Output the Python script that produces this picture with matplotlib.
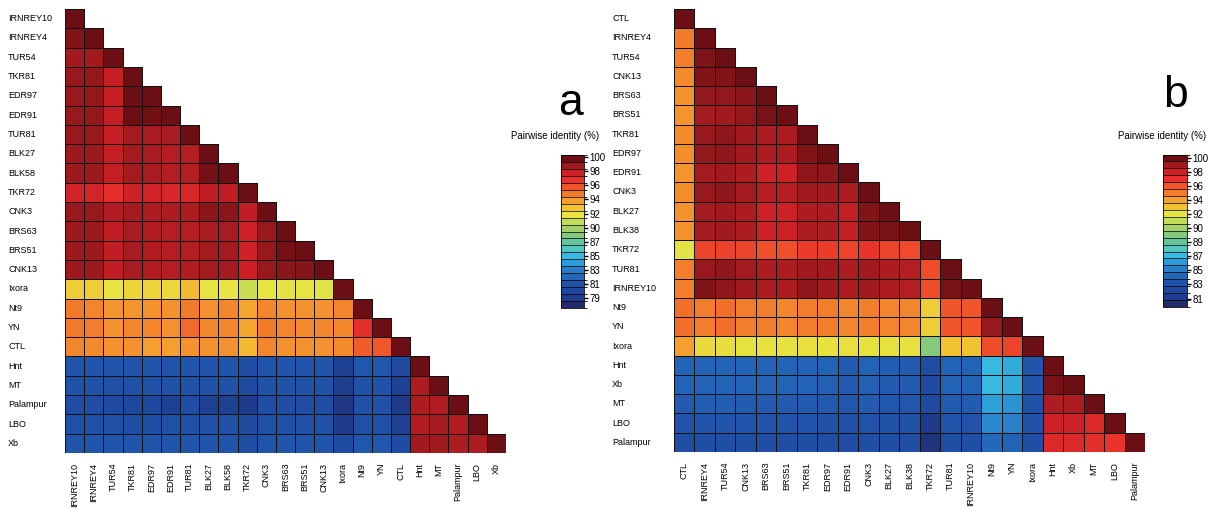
"""
Two lower-triangle pairwise identity heatmaps (panels a and b) with
discrete colour bars, in the style of SDT output.
"""
import numpy as np
import matplotlib
matplotlib.use("Agg")
import matplotlib.pyplot as plt
from matplotlib.colors import LinearSegmentedColormap, ListedColormap, Normalize, BoundaryNorm
from matplotlib.transforms import blended_transform_factory

plt.rcParams["font.family"] = ["Liberation Sans", "DejaVu Sans"]

# ---- data -----------------------------------------------------------------
labels_a = ["IRNREY10", "IRNREY4", "TUR54", "TKR81", "EDR97", "EDR91", "TUR81",
            "BLK27", "BLK58", "TKR72", "CNK3", "BRS63", "BRS51", "CNK13", "Ixora",
            "Nt9", "YN", "CTL", "Hnt", "MT", "Palampur", "LBO", "Xb"]

rows_a = [
    [100],
    [99.3, 100],
    [98.7, 98.7, 100],
    [98.9, 99.0, 97.9, 100],
    [98.9, 99.0, 97.9, 99.8, 100],
    [98.9, 99.0, 97.9, 99.8, 99.7, 100],
    [98.9, 98.9, 97.9, 98.6, 98.5, 98.5, 100],
    [98.8, 98.8, 97.9, 98.6, 98.5, 98.2, 98.2, 100],
    [98.8, 98.8, 97.9, 98.6, 98.5, 98.2, 98.2, 99.6, 100],
    [97.5, 97.4, 96.8, 97.6, 97.5, 97.3, 97.3, 98.0, 98.0, 100],
    [98.9, 98.9, 98.3, 98.6, 98.4, 98.4, 98.4, 99.1, 99.1, 98.0, 100],
    [98.8, 98.8, 98.0, 98.5, 98.3, 98.2, 98.2, 98.5, 98.5, 97.6, 98.9, 100],
    [98.8, 98.8, 98.0, 98.5, 98.3, 98.2, 98.2, 98.6, 98.6, 97.6, 98.9, 99.6, 100],
    [98.8, 98.8, 98.0, 98.5, 98.3, 98.2, 98.3, 98.6, 98.6, 97.7, 98.9, 99.1, 99.2, 100],
    [92.2, 92.2, 91.5, 92.0, 92.0, 91.9, 92.8, 91.5, 91.5, 90.7, 91.5, 91.4, 91.5, 91.3, 100],
    [94.6, 94.3, 93.9, 93.9, 94.0, 94.0, 94.6, 94.0, 94.3, 93.4, 94.3, 94.0, 94.0, 94.0, 94.3, 100],
    [94.6, 94.5, 94.0, 94.3, 94.3, 94.0, 95.0, 94.3, 94.3, 93.4, 94.6, 94.3, 94.1, 94.3, 94.3,
     96.8, 100],
    [94.3, 94.1, 94.0, 94.0, 93.6, 93.6, 94.0, 94.0, 94.0, 92.8, 94.3, 94.0, 94.0, 94.0, 94.1,
     95.4, 95.6, 100],
    [81.2, 81.2, 81.2, 81.1, 81.2, 81.1, 81.2, 81.2, 81.2, 80.6, 81.2, 81.2, 81.2, 81.2, 79.5,
     81.3, 81.3, 80.2, 100],
    [81.0, 81.0, 80.9, 80.9, 81.0, 81.0, 81.0, 81.0, 81.0, 80.4, 81.0, 81.0, 81.0, 81.0, 79.2,
     81.0, 81.0, 79.5, 98.4, 100],
    [80.7, 80.7, 80.3, 80.1, 80.1, 79.5, 80.7, 79.5, 79.5, 79.1, 80.7, 80.7, 80.7, 80.7, 78.8,
     80.9, 80.9, 79.0, 98.4, 98.3, 100],
    [80.9, 80.9, 80.9, 80.8, 80.8, 80.9, 80.9, 80.9, 80.9, 80.4, 80.9, 80.9, 80.9, 80.9, 79.1,
     80.9, 80.9, 79.5, 98.3, 98.6, 98.3, 100],
    [81.2, 81.2, 81.2, 81.2, 81.2, 81.2, 81.2, 81.2, 81.2, 80.8, 81.2, 81.2, 81.2, 81.2, 80.4,
     81.3, 81.3, 80.5, 98.7, 98.7, 98.4, 98.4, 100],
]

labels_b = ["CTL", "IRNREY4", "TUR54", "CNK13", "BRS63", "BRS51", "TKR81", "EDR97",
            "EDR91", "CNK3", "BLK27", "BLK38", "TKR72", "TUR81", "IRNREY10", "Nt9", "YN",
            "Ixora", "Hnt", "Xb", "MT", "LBO", "Palampur"]

rows_b = [
    [100],
    [95.3, 100],
    [95.2, 99.6, 100],
    [94.9, 99.5, 99.5, 100],
    [94.7, 99.2, 99.2, 99.4, 100],
    [94.6, 98.9, 99.0, 99.2, 99.7, 100],
    [94.9, 99.1, 99.3, 99.0, 98.7, 98.7, 100],
    [94.8, 99.2, 99.3, 99.0, 98.7, 98.7, 99.5, 100],
    [94.6, 98.9, 99.0, 98.7, 98.0, 98.0, 99.3, 99.3, 100],
    [94.8, 99.1, 99.3, 98.9, 98.6, 98.6, 99.0, 99.0, 98.7, 100],
    [94.7, 98.9, 99.0, 98.7, 98.0, 98.0, 98.7, 98.7, 98.2, 99.5, 100],
    [94.7, 98.9, 99.0, 98.7, 98.0, 98.0, 98.7, 98.7, 98.2, 99.5, 99.7, 100],
    [92.4, 96.6, 96.7, 96.6, 96.3, 96.3, 96.9, 96.9, 96.6, 97.0, 96.6, 96.5, 100],
    [95.2, 99.1, 99.3, 98.9, 98.7, 98.7, 99.0, 99.0, 98.7, 99.0, 98.7, 98.6, 96.4, 100],
    [95.2, 99.5, 99.3, 99.0, 98.7, 98.7, 99.3, 99.0, 98.7, 99.0, 98.7, 98.6, 96.4, 99.7, 100],
    [95.6, 95.2, 95.6, 95.2, 95.2, 95.0, 95.2, 95.2, 95.0, 95.2, 95.0, 95.0, 93.1, 96.2, 96.2,
     100],
    [95.6, 95.2, 95.6, 95.2, 95.2, 95.0, 95.2, 95.2, 95.0, 95.2, 95.0, 95.0, 93.1, 96.2, 96.2,
     99.1, 100],
    [94.4, 92.8, 92.7, 92.5, 92.5, 92.5, 92.6, 92.5, 92.6, 92.5, 92.5, 92.5, 89.8, 93.4, 93.4,
     96.4, 96.6, 100],
    [84.0, 84.0, 84.0, 84.0, 83.9, 83.9, 83.9, 83.9, 83.5, 83.9, 83.7, 83.5, 82.6, 83.9, 83.9,
     86.9, 86.4, 83.2, 100],
    [84.0, 84.0, 84.0, 83.9, 83.9, 83.9, 83.9, 83.8, 83.5, 83.8, 83.6, 83.5, 82.5, 83.9, 83.9,
     86.9, 86.4, 83.2, 99.7, 100],
    [83.5, 83.7, 83.7, 83.6, 83.5, 83.5, 83.5, 83.4, 83.3, 83.5, 83.3, 83.3, 82.4, 83.6, 83.6,
     86.1, 85.7, 83.0, 98.7, 98.7, 100],
    [83.1, 83.2, 83.2, 83.2, 83.1, 83.1, 83.1, 83.0, 82.9, 83.1, 83.0, 83.0, 81.2, 83.1, 83.1,
     85.4, 85.1, 83.0, 98.0, 98.0, 97.6, 100],
    [82.7, 82.8, 82.8, 82.8, 82.7, 82.7, 82.7, 82.7, 82.6, 82.7, 82.7, 82.7, 80.8, 82.8, 82.8,
     84.2, 83.9, 82.7, 97.6, 97.6, 97.3, 97.0, 100],
]

ticks_a = ["100", "98", "96", "94", "92", "90", "87", "85", "83", "81", "79"]
ticks_b = ["100", "98", "96", "94", "92", "90", "89", "87", "85", "83", "81"]

# colour bands of the legend, highest identity first
band_colors = ["#6b0f14", "#9e1a1e", "#cc2026", "#e8302c", "#f0542a", "#f27a2b",
               "#f4a02f", "#f2c233", "#e8e442", "#c4dc58", "#a2d06a", "#84c87c",
               "#66c29c", "#54c6c2", "#38bae0", "#2a9cd8", "#2a7ec8", "#2466b8",
               "#2054aa", "#1e489e", "#1f3c8e", "#222c6a"]


def make_cmap():
    # anchor each legend colour at the centre of its band
    low_first = band_colors[::-1]
    nb = len(low_first)
    anchors = [(0.0, low_first[0])]
    anchors += [((k + 0.5) / nb, c) for k, c in enumerate(low_first)]
    anchors += [(1.0, low_first[-1])]
    return LinearSegmentedColormap.from_list("sdt", anchors)


def draw_panel(fig, rect, cbar_rect, labels, rows, vmin, vmax, tick_top, tick_bot,
               tick_labels, letter, letter_xy, title_xy, label_x):
    n = len(labels)
    cmap = make_cmap()
    norm = Normalize(vmin, vmax)

    ax = fig.add_axes(rect)
    # one strip per row so that only the lower triangle gets cells and edges
    for i, r in enumerate(rows):
        vals = np.array(r, dtype=float)[None, :]
        ax.pcolormesh(np.arange(len(r) + 1), [i, i + 1], vals, cmap=cmap, norm=norm,
                      edgecolors="#111111", linewidth=0.6)
    ax.set_xlim(0, n)
    ax.set_ylim(n, 0)
    for s in ax.spines.values():
        s.set_visible(False)
    ax.set_xticks(np.arange(n) + 0.5)
    ax.set_xticklabels(labels, rotation=90, fontsize=6.5)
    ax.tick_params(axis="x", length=0, pad=7)
    ax.set_yticks([])

    trans = blended_transform_factory(ax.transAxes, ax.transData)
    for i, lab in enumerate(labels):
        ax.text(label_x, i + 0.5, lab, transform=trans, ha="left", va="center",
                fontsize=6.5)

    # discrete colour bar
    cax = fig.add_axes(cbar_rect)
    bounds = np.linspace(vmin, vmax, len(band_colors) + 1)
    sm = plt.cm.ScalarMappable(cmap=ListedColormap(band_colors[::-1]),
                               norm=BoundaryNorm(bounds, len(band_colors)))
    cb = fig.colorbar(sm, cax=cax, drawedges=True)
    cb.dividers.set_linewidth(0.5)
    cb.outline.set_linewidth(0.6)
    cb.set_ticks(np.linspace(tick_top, tick_bot, len(tick_labels)))
    cb.set_ticklabels(tick_labels)
    cax.tick_params(length=3, width=1, labelsize=7, pad=1)

    fig.text(letter_xy[0], letter_xy[1], letter, fontsize=32, ha="center",
             va="baseline")
    fig.text(title_xy[0], title_xy[1], "Pairwise identity (%)", fontsize=7,
             ha="center", va="center")


fig = plt.figure(figsize=(12.26, 5.11), dpi=100)
H = 511.0
W = 1226.0

draw_panel(fig, [65 / W, 1 - 453 / H, 441 / W, 444 / H],
           [561 / W, 1 - 308 / H, 22.6 / W, 153 / H],
           labels_a, rows_a, 77.5, 100.34, 100, 79, ticks_a, "a",
           (570 / W, 1 - 115 / H), (555 / W, 1 - 136 / H), -0.129)

draw_panel(fig, [674 / W, 1 - 452 / H, 471 / W, 443 / H],
           [1163 / W, 1 - 307 / H, 24 / W, 152.5 / H],
           labels_b, rows_b, 79.86, 100.45, 100, 81, ticks_b, "b",
           (1176 / W, 1 - 107 / H), (1162 / W, 1 - 136 / H), -0.1316)

fig.savefig("out.png", dpi=100)
